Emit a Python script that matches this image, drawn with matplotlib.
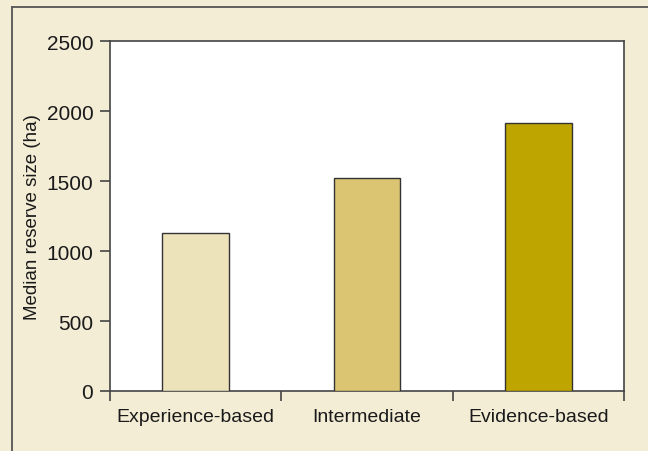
from matplotlib import pyplot as plt
from matplotlib.lines import Line2D

categorias = ["Experience-based", "Intermediate", "Evidence-based"]
valores = [1130, 1525, 1915]
colores = ["#ede3bb", "#dbc572", "#bfa500"]
yticks = [0, 500, 1000, 1500, 2000, 2500]

plt.rcParams['font.family'] = ['Liberation Sans', 'DejaVu Sans']

W, H = 648, 452
fig = plt.figure(figsize=(W / 100, H / 100), dpi=100)
fig.patch.set_facecolor("#f3edd6")

# marco exterior de la figura (solo izquierda y arriba visibles)
fig.add_artist(Line2D([12 / W, 12 / W], [0, 1 - 7.5 / H], transform=fig.transFigure,
                      color="#555555", lw=1.3))
fig.add_artist(Line2D([12 / W, 1], [1 - 7.5 / H, 1 - 7.5 / H], transform=fig.transFigure,
                      color="#555555", lw=1.3))

ax = fig.add_axes([110 / W, 1 - 392 / H, (624 - 110) / W, (392 - 42) / H])
ax.set_facecolor("white")

x = range(len(categorias))
ax.bar(x, valores, width=0.39, color=colores, edgecolor="#333333", linewidth=1.0, zorder=3)

ax.set_xlim(-0.5, len(categorias) - 0.5)
ax.set_ylim(0, 2500)
ax.set_yticks(yticks)
ax.set_yticklabels([str(v) for v in yticks], fontsize=15, color="#1a1a1a")

# etiquetas en el centro, ticks en los bordes de cada categoria
ax.set_xticks([i - 0.5 for i in range(len(categorias) + 1)])
ax.set_xticklabels([])
ax.set_xticks(list(x), minor=True)
ax.set_xticklabels(categorias, minor=True, fontsize=14, color="#1a1a1a")
ax.tick_params(axis="x", which="minor", length=0, pad=12)
ax.tick_params(axis="x", which="major", length=7, width=1.2, color="#444444", direction="out")
ax.tick_params(axis="y", length=7, width=1.2, color="#444444", direction="out", pad=5)

for lado in ["left", "bottom", "top", "right"]:
    ax.spines[lado].set_color("#444444")
    ax.spines[lado].set_linewidth(1.2)

ax.set_ylabel("Median reserve size (ha)", fontsize=13.5, color="#1a1a1a", labelpad=4)

fig.savefig("out.png", dpi=100, facecolor=fig.get_facecolor())
